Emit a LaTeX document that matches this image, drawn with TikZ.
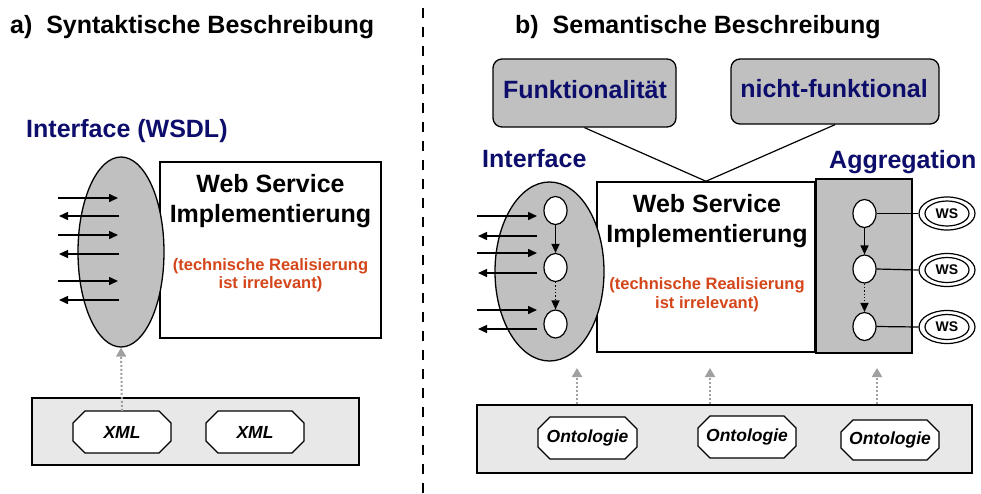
\documentclass[tikz,border=0pt]{standalone}
\usepackage{fontspec}
\setmainfont{Liberation Sans}
\usetikzlibrary{arrows.meta,shapes.geometric}
\definecolor{navy}{HTML}{0D0D6B}
\definecolor{rust}{HTML}{D4461A}
\definecolor{midgray}{HTML}{C0C0C0}
\definecolor{lightgray}{HTML}{E8E8E8}
\definecolor{arrgray}{HTML}{A0A0A0}
\newcommand\bigf{\bfseries\fontsize{25}{30}\selectfont}
\newcommand\smallf{\bfseries\fontsize{16.5}{20}\selectfont}
\newcommand\octf{\bfseries\itshape\fontsize{17.5}{20}\selectfont}
\newcommand\octonode[6]{%
  \filldraw[octline,shift={(#2,#3)}] ({-#4/2+12},{-#5/2}) -- ({#4/2-12},{-#5/2}) -- ({#4/2},{-#5/2+12}) -- ({#4/2},{#5/2-12}) -- ({#4/2-12},{#5/2}) -- ({-#4/2+12},{#5/2}) -- ({-#4/2},{#5/2-12}) -- ({-#4/2},{-#5/2+12}) -- cycle;
  \node[octtext,minimum width=#4pt,minimum height=#5pt] (#1) at (#2,#3) {#6};}
\begin{document}
\begin{tikzpicture}[x=1pt,y=-1pt,
  txt/.style={inner sep=0pt,anchor=base},
  boxline/.style={draw=black,line width=1.5pt},
  octline/.style={draw=black,fill=white,line width=1.2pt},
  octtext/.style={inner sep=0pt,font=\octf},
  bigell/.style={ellipse,draw=black,fill=midgray,line width=1.3pt,inner sep=0pt},
  smell/.style={ellipse,draw=black,fill=white,line width=1.2pt,inner sep=0pt,minimum width=23pt,minimum height=28pt},
  wsell/.style={ellipse,draw=black,fill=white,line width=1.2pt,inner sep=0pt},
  flow/.style={line width=1.5pt,-{Triangle[length=9pt,width=8pt]}},
  sem/.style={draw=arrgray,line width=2pt,dotted,-{Triangle[length=9pt,width=10pt,fill=arrgray]},arrgray},
  topbox/.style={draw=black,fill=midgray,line width=1.3pt,rounded corners=9pt,inner sep=0pt}
]
\useasboundingbox (0,0) rectangle (981,493);

% titles
\node[inner sep=0pt,anchor=base west,font=\bigf] (ta) at (10,33) {a)~~Syntaktische Beschreibung};
\node[inner sep=0pt,anchor=base west,font=\bigf] (tb) at (515,33) {b)~~Semantische Beschreibung};

% separator
\coordinate (dtop) at (423,8);
\coordinate (dbot) at (423,493);
\draw[line width=2.5pt,dash pattern=on 10pt off 9pt] (dtop) -- (dbot);

% ---------------- left part ----------------
\node[inner sep=0pt,anchor=base west,font=\bigf,text=navy] (lifl) at (26,137) {Interface (WSDL)};
\node[boxline,fill=white,minimum width=221pt,minimum height=176pt,inner sep=0pt] (wsl) at (270.5,250) {};
\node[bigell,minimum width=86pt,minimum height=190pt] (ell) at (121,252) {};
\node[txt,font=\bigf] (wsl1) at (270.5,192) {Web Service};
\node[txt,font=\bigf] (wsl2) at (270.5,222) {Implementierung};
\node[txt,font=\smallf,text=rust] (wsl3) at (270.5,270) {(technische Realisierung};
\node[txt,font=\smallf,text=rust] (wsl4) at (270.5,288) {ist irrelevant)};

\foreach \y in {198,235,281} \draw[flow] (58,\y) -- (118,\y);
\foreach \y in {216,254,300} \draw[flow] (119,\y) -- (59,\y);

\node[draw=black,fill=lightgray,line width=1.3pt,minimum width=327pt,minimum height=67pt,inner sep=0pt] (botl) at (195.5,431.5) {};
\octonode{xa}{122}{432}{98}{42}{XML}
\octonode{xb}{255}{432}{98}{42}{XML}
\draw[sem] (xa.north) -- (ell.south);

% ---------------- right part ----------------
\node[topbox,minimum width=183pt,minimum height=68pt] (fk) at (584.5,93) {};
\node[txt,font=\bigf,text=navy] (fkt) at (585,98) {Funktionalität};
\node[topbox,minimum width=208pt,minimum height=65pt] (nf) at (835,91.5) {};
\node[txt,font=\bigf,text=navy] (nft) at (834,97) {nicht-funktional};

\node[inner sep=0pt,anchor=base west,font=\bigf,text=navy] (rifl) at (482,167) {Interface};
\node[inner sep=0pt,anchor=base west,font=\bigf,text=navy] (aggl) at (829,168) {Aggregation};

\node[boxline,fill=white,minimum width=218pt,minimum height=170pt,inner sep=0pt] (wsr) at (706,267) {};
\draw[line width=1.2pt] (fk.south) -- (wsr.north);
\draw[line width=1.2pt] (nf.south) -- (wsr.north);
\node[txt,font=\bigf] (wsr1) at (707,212) {Web Service};
\node[txt,font=\bigf] (wsr2) at (707,242) {Implementierung};
\node[txt,font=\smallf,text=rust] (wsr3) at (707,289) {(technische Realisierung};
\node[txt,font=\smallf,text=rust] (wsr4) at (707,308) {ist irrelevant)};

\node[bigell,minimum width=109pt,minimum height=179pt] (elr) at (549.5,271.5) {};
\node[smell] (i1) at (555.5,210.5) {};
\node[smell] (i2) at (555.5,267.5) {};
\node[smell] (i3) at (555.5,324) {};
\draw[flow,line width=1.3pt] (i1.south) -- (i2.north);
\draw[flow,line width=1.3pt,dotted] (i2.south) -- (i3.north);
\foreach \y in {216,253,310} \draw[flow] (477,\y) -- (537,\y);
\foreach \y in {236,273,329} \draw[flow] (537,\y) -- (478,\y);

\node[draw=black,fill=midgray,line width=1.3pt,minimum width=96pt,minimum height=174pt,inner sep=0pt] (agg) at (864,266) {};
\node[smell] (a1) at (864.5,213.5) {};
\node[smell] (a2) at (864.5,269) {};
\node[smell] (a3) at (864.5,326.5) {};
\draw[flow,line width=1.3pt] (a1.south) -- (a2.north);
\draw[flow,line width=1.3pt,dotted] (a2.south) -- (a3.north);

\foreach \n/\y in {1/213.5,2/270,3/327}{
  \node[wsell,minimum width=56pt,minimum height=33pt] (w\n) at (947,\y) {};
  \node[wsell,minimum width=44pt,minimum height=25pt,font=\bfseries\fontsize{14}{16}\selectfont] (wi\n) at (947,\y) {WS};
}
\draw[line width=1.2pt] (a1.east) -- (w1.west);
\draw[line width=1.2pt] (a2.east) -- (w2.west);
\draw[line width=1.2pt] (a3.east) -- (w3.west);

\node[draw=black,fill=lightgray,line width=1.3pt,minimum width=495pt,minimum height=68pt,inner sep=0pt] (botr) at (724.5,439) {};
\octonode{oa}{587.5}{438}{99}{42}{Ontologie}
\octonode{ob}{747}{437}{98}{42}{Ontologie}
\octonode{oc}{890}{440}{98}{40}{Ontologie}
\coordinate (s1) at (577,368);
\coordinate (s2) at (710,368);
\coordinate (s3) at (877,368);
\draw[sem] (botr.north -| s1) -- (s1);
\draw[sem] (botr.north -| s2) -- (s2);
\draw[sem] (botr.north -| s3) -- (s3);
\end{tikzpicture}
\end{document}
